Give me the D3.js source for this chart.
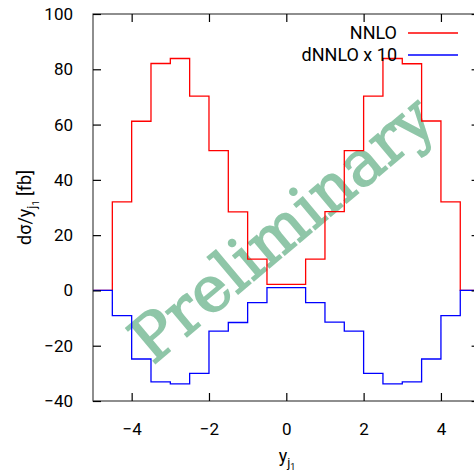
<!DOCTYPE html>
<html>
<head>
<meta charset="utf-8">
<script src="https://cdn.jsdelivr.net/npm/d3@7"></script>
<style>
  body { margin: 0; background: #fff; }
  svg { display: block; font-family: Roboto, "Noto Sans", sans-serif; }
</style>
</head>
<body>
<div id="chart"></div>
<script>
// lower edge of each bin (width 0.5)
const binLo = [-5, -4.5, -4, -3.5, -3, -2.5, -2, -1.5, -1, -0.5, 0, 0.5, 1, 1.5, 2, 2.5, 3, 3.5, 4, 4.5];
const binHi = 5;
const nnlo = [0, 32, 61.2, 82.1, 83.9, 70.3, 50.6, 28.4, 11.3, 2.2, 2.2, 11.3, 28.5, 50.6, 70.3, 83.9, 82, 61.3, 32, 0];
const dnnlo = [0, -9.1, -24.8, -33.1, -33.8, -30, -14.7, -11.6, -4.4, 1.0, 1.0, -4.4, -11.5, -14.7, -30, -33.8, -33.1, -24.8, -9.1, 0];
const xTicks = [-4, -2, 0, 2, 4];
const yTicks = [-40, -20, 0, 20, 40, 60, 80, 100];
const seriesNames = ['NNLO', 'dNNLO x 10'];
const seriesColors = ['#ff0000', '#0000ff'];

const width = 474, height = 472;
const margin = {top: 14, right: -5.6, bottom: 71, left: 93};

const svg = d3.select('#chart')
    .append('svg')
    .attr('width', width)
    .attr('height', height);

const x = d3.scaleLinear()
    .domain([-5, 5])
    .range([margin.left, width - margin.right]);
const y = d3.scaleLinear()
    .domain([-40, 100])
    .range([height - margin.bottom, margin.top]);

// watermark
svg.append('text')
    .attr('transform', 'translate(282,229) rotate(-40)')
    .attr('text-anchor', 'middle')
    .attr('dominant-baseline', 'central')
    .attr('font-family', '"DejaVu Serif", serif')
    .attr('font-size', '63px')
    .attr('fill', '#8fc6a8')
    .attr('stroke', '#8fc6a8')
    .attr('stroke-width', 1.6)
    .text('Preliminary');

// step lines
const line = d3.line()
    .x(d => x(d[0]))
    .y(d => y(d[1]))
    .curve(d3.curveStepAfter);
[nnlo, dnnlo].forEach((vals, i) => {
    const pts = binLo.map((b, j) => [b, vals[j]]);
    pts.push([binHi, vals[vals.length - 1]]);
    svg.append('path')
        .datum(pts)
        .attr('fill', 'none')
        .attr('stroke', seriesColors[i])
        .attr('stroke-width', 1.3)
        .attr('d', line);
});

// border
svg.append('rect')
    .attr('x', x(-5))
    .attr('y', y(100))
    .attr('width', x(5) - x(-5))
    .attr('height', y(-40) - y(100))
    .attr('fill', 'none')
    .attr('stroke', '#444')
    .attr('stroke-width', 1.2);

// axes with inward ticks, mirrored
const tickLen = 8;
svg.append('g')
    .attr('transform', `translate(0,${y(-40)})`)
    .call(d3.axisBottom(x).tickValues(xTicks).tickSizeInner(-tickLen).tickSizeOuter(0).tickPadding(tickLen + 14))
    .call(g => g.select('.domain').remove());
svg.append('g')
    .attr('transform', `translate(0,${y(100)})`)
    .call(d3.axisTop(x).tickValues(xTicks).tickSizeInner(-tickLen).tickSizeOuter(0).tickFormat(''))
    .call(g => g.select('.domain').remove());
svg.append('g')
    .attr('transform', `translate(${x(-5)},0)`)
    .call(d3.axisLeft(y).tickValues(yTicks).tickSizeInner(-tickLen).tickSizeOuter(0).tickPadding(tickLen + 12))
    .call(g => g.select('.domain').remove());
svg.append('g')
    .attr('transform', `translate(${x(5)},0)`)
    .call(d3.axisRight(y).tickValues(yTicks).tickSizeInner(-tickLen).tickSizeOuter(0).tickFormat(''))
    .call(g => g.select('.domain').remove());
svg.selectAll('.tick line').attr('stroke', '#000').attr('stroke-width', 1.2);
svg.selectAll('.tick text')
    .attr('font-family', 'Roboto, sans-serif')
    .attr('font-size', '17px')
    .attr('fill', '#000');

// legend
seriesNames.forEach((name, i) => {
    const ly = 33 + i * 22;
    svg.append('text')
        .attr('x', 397)
        .attr('y', ly)
        .attr('dy', '0.35em')
        .attr('text-anchor', 'end')
        .attr('font-size', '18px')
        .text(name);
    svg.append('line')
        .attr('x1', 408).attr('x2', 458)
        .attr('y1', ly).attr('y2', ly)
        .attr('stroke', seriesColors[i])
        .attr('stroke-width', 1.3);
});

// axis titles
const xl = svg.append('text')
    .attr('x', 287)
    .attr('y', 462)
    .attr('text-anchor', 'middle')
    .attr('font-size', '18px');
xl.append('tspan').text('y');
xl.append('tspan').attr('font-size', '13px').attr('dy', 5).text('j');
xl.append('tspan').attr('font-size', '9px').attr('dy', 3).text('1');

const yl = svg.append('text')
    .attr('transform', `translate(31,${(y(100) + y(-40)) / 2}) rotate(-90)`)
    .attr('text-anchor', 'middle')
    .attr('font-size', '18px');
yl.append('tspan').text('dσ/y');
yl.append('tspan').attr('font-size', '13px').attr('dy', 5).text('j');
yl.append('tspan').attr('font-size', '9px').attr('dy', 3).text('1');
yl.append('tspan').attr('dy', -8).text(' [fb]');
</script>
</body>
</html>
